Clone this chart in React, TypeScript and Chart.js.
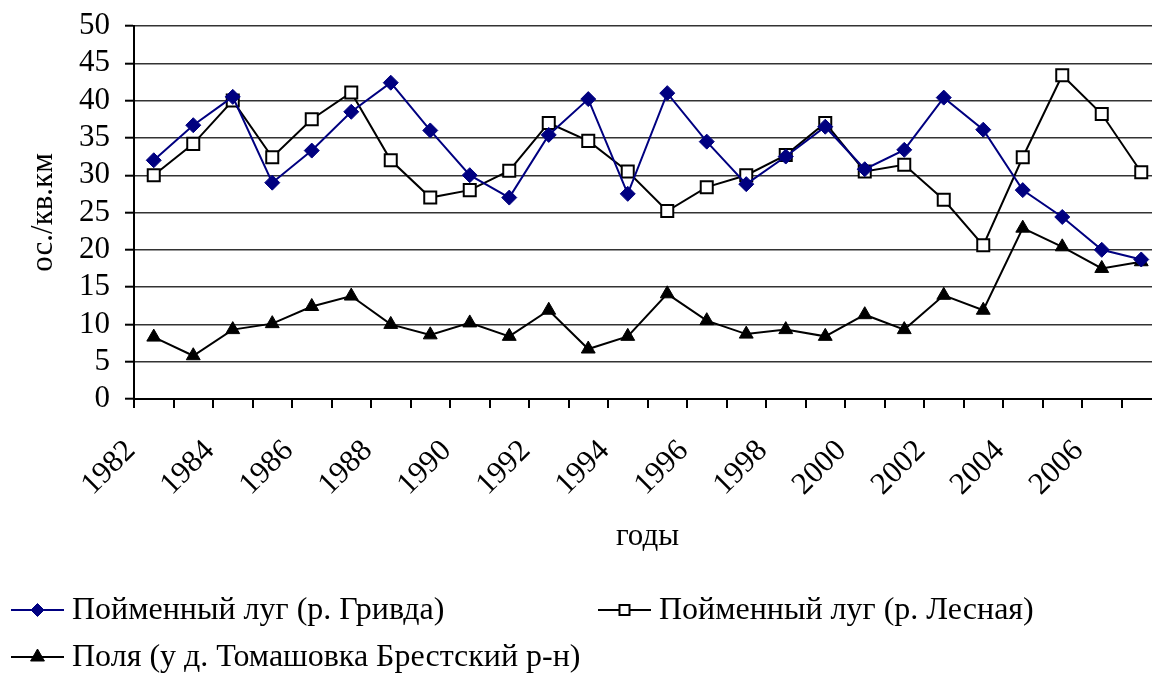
import React, { useEffect, useRef } from 'react';
import { Chart, registerables } from 'chart.js';

Chart.register(...registerables);

const years = [
  '1982', '1983', '1984', '1985', '1986', '1987', '1988', '1989', '1990',
  '1991', '1992', '1993', '1994', '1995', '1996', '1997', '1998', '1999',
  '2000', '2001', '2002', '2003', '2004', '2005', '2006', '2007',
];

const grivda = [
  32, 36.7, 40.5, 29, 33.3, 38.5, 42.4, 36, 30, 27, 35.4, 40.2, 27.5, 41,
  34.5, 28.8, 32.5, 36.5, 30.8, 33.4, 40.4, 36.1, 28, 24.4, 20, 18.7,
];

const lesnaya = [
  30, 34.2, 40, 32.4, 37.5, 41.1, 32, 27, 28, 30.6, 37, 34.6, 30.5, 25.2,
  28.4, 30, 32.7, 37, 30.5, 31.4, 26.7, 20.6, 32.4, 43.4, 38.2, 30.4,
];

const fields = [
  8.3, 5.8, 9.3, 10.1, 12.4, 13.8, 10, 8.6, 10.2, 8.4, 11.9, 6.7, 8.4, 14.1,
  10.5, 8.7, 9.3, 8.4, 11.3, 9.3, 13.9, 11.9, 22.9, 20.4, 17.5, 18.4,
];

const seriesNames = [
  'Пойменный луг (р. Гривда)',
  'Пойменный луг (р. Лесная)',
  'Поля (у д. Томашовка Брестский р-н)',
];

const yTicks = [0, 5, 10, 15, 20, 25, 30, 35, 40, 45, 50];

const yTitle = 'ос./кв.км';
const xTitle = 'годы';

const FONT = "'Liberation Serif', 'Times New Roman', serif";
const NAVY = '#000080';

const legendPlugin = {
  id: 'customLegend',
  afterDraw(chart: any) {
    const ctx = chart.ctx as CanvasRenderingContext2D;
    const items = [
      { x: 11, y: 610, color: NAVY, style: 'rectRot', text: seriesNames[0], fill: NAVY },
      { x: 598, y: 610, color: '#000', style: 'rect', text: seriesNames[1], fill: '#fff' },
      { x: 11, y: 657, color: '#000', style: 'triangle', text: seriesNames[2], fill: '#000' },
    ];
    ctx.save();
    for (const it of items) {
      ctx.strokeStyle = it.color;
      ctx.lineWidth = 2;
      ctx.beginPath();
      ctx.moveTo(it.x, it.y);
      ctx.lineTo(it.x + 53, it.y);
      ctx.stroke();
      const cx = it.x + 26.5;
      ctx.beginPath();
      if (it.style === 'rectRot') {
        const r = 6.5;
        ctx.moveTo(cx - r, it.y);
        ctx.lineTo(cx, it.y - r);
        ctx.lineTo(cx + r, it.y);
        ctx.lineTo(cx, it.y + r);
        ctx.closePath();
        ctx.fillStyle = it.fill;
        ctx.fill();
        ctx.lineWidth = 1;
        ctx.stroke();
      } else if (it.style === 'rect') {
        const s = 5;
        ctx.rect(cx - s, it.y - s, 2 * s, 2 * s);
        ctx.fillStyle = it.fill;
        ctx.fill();
        ctx.lineWidth = 2;
        ctx.stroke();
      } else {
        const r = 8;
        ctx.moveTo(cx, it.y - r);
        ctx.lineTo(cx + r * 0.866, it.y + r * 0.5);
        ctx.lineTo(cx - r * 0.866, it.y + r * 0.5);
        ctx.closePath();
        ctx.fillStyle = it.fill;
        ctx.fill();
        ctx.lineWidth = 1;
        ctx.stroke();
      }
      ctx.fillStyle = '#000';
      ctx.font = `32px ${FONT}`;
      ctx.textAlign = 'left';
      ctx.textBaseline = 'middle';
      ctx.fillText(it.text, it.x + 61, it.y + 1);
    }
    ctx.restore();
  },
};

export default function App() {
  const ref = useRef<HTMLCanvasElement | null>(null);

  useEffect(() => {
    if (!ref.current) return;
    const chart = new Chart(ref.current, {
      type: 'line',
      data: {
        labels: years,
        datasets: [
          {
            label: seriesNames[0],
            data: grivda,
            borderColor: NAVY,
            backgroundColor: NAVY,
            borderWidth: 2,
            pointStyle: 'rectRot',
            pointRadius: 7.5,
            pointBorderWidth: 1,
            pointBackgroundColor: NAVY,
            pointBorderColor: NAVY,
            tension: 0,
          },
          {
            label: seriesNames[1],
            data: lesnaya,
            borderColor: '#000',
            backgroundColor: '#fff',
            borderWidth: 2,
            pointStyle: 'rect',
            pointRadius: 8.5,
            pointBorderWidth: 2,
            pointBackgroundColor: '#fff',
            pointBorderColor: '#000',
            tension: 0,
          },
          {
            label: seriesNames[2],
            data: fields,
            borderColor: '#000',
            backgroundColor: '#000',
            borderWidth: 2,
            pointStyle: 'triangle',
            pointRadius: 8,
            pointBorderWidth: 1,
            pointBackgroundColor: '#000',
            pointBorderColor: '#000',
            tension: 0,
          },
        ],
      },
      options: {
        animation: false,
        responsive: false,
        devicePixelRatio: 1,
        events: [],
        layout: { autoPadding: false, padding: { left: 0, right: 0, top: 26, bottom: 120 } },
        plugins: {
          legend: { display: false },
          tooltip: { enabled: false },
        },
        scales: {
          x: {
            type: 'category',
            offset: true,
            grid: {
              offset: true,
              drawOnChartArea: false,
              drawTicks: true,
              tickLength: 9,
              color: '#000',
              lineWidth: 2,
            },
            border: { display: true, color: '#000', width: 2 },
            ticks: {
              autoSkip: false,
              minRotation: 45,
              maxRotation: 45,
              padding: 25,
              labelOffset: -23,
              color: '#000',
              font: { family: FONT, size: 31 },
              callback: (_v: any, i: number) => (i % 2 === 0 ? years[i] : ''),
            },
            title: {
              display: true,
              text: xTitle,
              color: '#000',
              font: { family: FONT, size: 31 },
              padding: { top: 0, bottom: 0 },
            },
            afterFit: (scale: any) => {
              scale.height = 156;
              scale.paddingLeft = 0;
              scale.paddingRight = 0;
            },
          },
          y: {
            min: 0,
            max: 50,
            afterBuildTicks: (scale: any) => {
              scale.ticks = yTicks.map((v) => ({ value: v }));
            },
            grid: {
              color: '#333',
              lineWidth: 1.4,
              tickLength: 9,
              tickColor: '#000',
              tickWidth: 2,
            },
            border: { display: true, color: '#000', width: 2 },
            ticks: {
              autoSkip: false,
              stepSize: 5,
              padding: 15,
              color: '#000',
              font: { family: FONT, size: 31 },
            },
            title: {
              display: true,
              text: yTitle,
              color: '#000',
              font: { family: FONT, size: 31 },
              padding: { top: 25, bottom: 0 },
            },
            afterFit: (scale: any) => {
              scale.width = 134;
              scale.paddingTop = 0;
              scale.paddingBottom = 0;
            },
          },
        },
      },
      plugins: [legendPlugin],
    });
    return () => chart.destroy();
  }, []);

  return (
    <div
      style={{
        position: 'absolute',
        left: 0,
        top: 0,
        width: 1152,
        height: 675,
        overflow: 'hidden',
        background: '#fff',
      }}
    >
      <canvas ref={ref} width={1161} height={675} style={{ display: 'block' }} />
    </div>
  );
}
